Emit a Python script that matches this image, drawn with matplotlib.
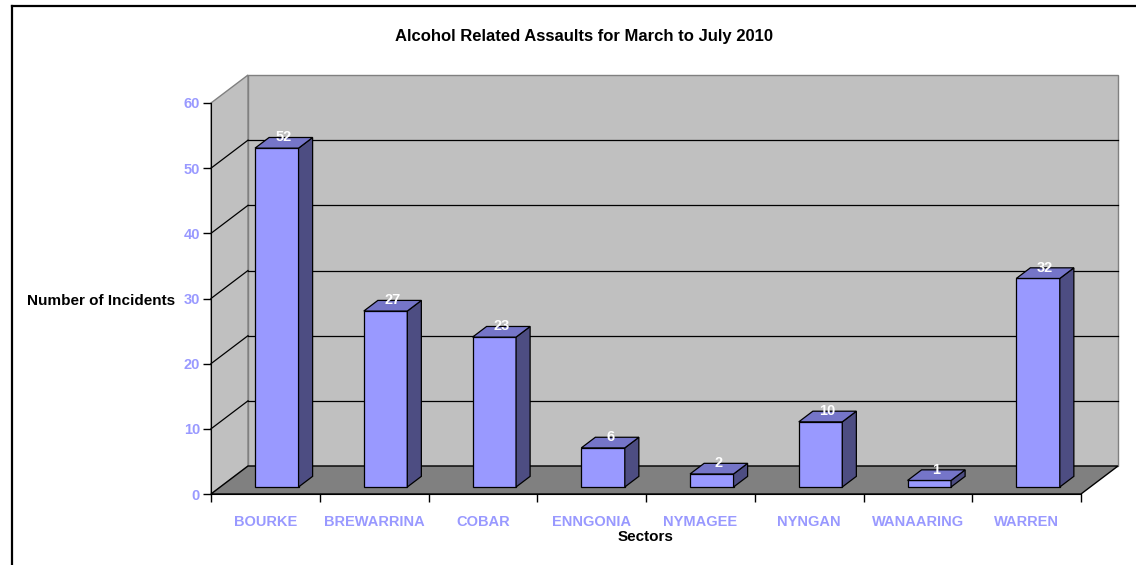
import matplotlib
matplotlib.use("Agg")
import matplotlib.pyplot as plt
from matplotlib.patches import Polygon
from matplotlib.lines import Line2D

categories = ["BOURKE", "BREWARRINA", "COBAR", "ENNGONIA", "NYMAGEE", "NYNGAN", "WANAARING", "WARREN"]
values = [52, 27, 23, 6, 2, 10, 1, 32]
y_ticks = [0, 10, 20, 30, 40, 50, 60]
title = "Alcohol Related Assaults for March to July 2010"
y_label = "Number of Incidents"
x_label = "Sectors"

plt.rcParams['font.family'] = ['Liberation Sans', 'DejaVu Sans']
plt.rcParams['font.weight'] = 'bold'

W, H = 1136, 565
fig = plt.figure(figsize=(W / 100, H / 100), dpi=100)
ax = fig.add_axes([211 / W, (H - 494) / H, 870 / W, 391 / H])
n = len(categories)
ymax = 60
ax.set_xlim(0, n)
ax.set_ylim(0, ymax)
ax.patch.set_alpha(0)

# depth offsets (in data units) of the back plane
DX = 37 / 870 * n
DY = 28 / 391 * ymax
d1, d2 = 0.25, 0.63

wall = "#C0C0C0"
floor = "#808080"
front_c = "#9999FF"
side_c = "#4D4D82"
top_c = "#7575C8"

# walls and floor
ax.add_patch(Polygon([(DX, DY), (n + DX, DY), (n + DX, ymax + DY), (DX, ymax + DY)],
                     closed=True, facecolor=wall, edgecolor="#808080", lw=1, clip_on=False, zorder=0))
ax.add_patch(Polygon([(0, 0), (DX, DY), (DX, ymax + DY), (0, ymax)],
                     closed=True, facecolor=wall, edgecolor="#808080", lw=1, clip_on=False, zorder=0))
ax.add_patch(Polygon([(0, 0), (n, 0), (n + DX, DY), (DX, DY)],
                     closed=True, facecolor=floor, edgecolor="black", lw=1, clip_on=False, zorder=1))

# gridlines
for v in y_ticks[1:-1]:
    ax.add_line(Line2D([DX, n + DX], [v + DY, v + DY], color="black", lw=0.9, clip_on=False, zorder=1))
    ax.add_line(Line2D([0, DX], [v, v + DY], color="black", lw=0.9, clip_on=False, zorder=1))

# bars
bw = 0.40
xs = [i + 0.32 + d1 * DX for i in range(n)]
base = d1 * DY
ax.bar(xs, values, width=bw, bottom=base, align="edge", color=front_c,
       edgecolor="black", linewidth=0.9, zorder=3, clip_on=False)
ddx = (d2 - d1) * DX
ddy = (d2 - d1) * DY
for x, v in zip(xs, values):
    xr = x + bw
    top = base + v
    ax.add_patch(Polygon([(xr, base), (xr + ddx, base + ddy), (xr + ddx, top + ddy), (xr, top)],
                         closed=True, facecolor=side_c, edgecolor="black", lw=0.9, clip_on=False, zorder=3))
    ax.add_patch(Polygon([(x, top), (xr, top), (xr + ddx, top + ddy), (x + ddx, top + ddy)],
                         closed=True, facecolor=top_c, edgecolor="black", lw=0.9, clip_on=False, zorder=3))
    ax.text(x + bw / 2 + ddx / 2, v + d2 * DY, str(v), color="white", fontsize=10.5,
            fontweight="bold", ha="center", va="center", zorder=5)

# axes styling
for s in ["top", "right"]:
    ax.spines[s].set_visible(False)
ax.spines["left"].set_color("black")
ax.spines["bottom"].set_color("black")
ax.spines["left"].set_zorder(2)
ax.set_yticks(y_ticks)
ax.set_yticklabels([str(t) for t in y_ticks])
ax.tick_params(axis="y", direction="out", length=6, width=1, pad=2,
               labelcolor="#9999FF", labelsize=10.5)
ax.set_xticks(range(n + 1))
ax.set_xticklabels([""] * (n + 1))
ax.set_xticks([i + 0.5 for i in range(n)], minor=True)
ax.set_xticklabels(categories, minor=True)
ax.tick_params(axis="x", which="major", direction="out", length=6, width=1)
ax.tick_params(axis="x", which="minor", length=0, pad=15, labelcolor="#9999FF", labelsize=10.5)
for lbl in ax.get_xticklabels(minor=True) + ax.get_yticklabels():
    lbl.set_fontweight("bold")

fig.text(584 / W, 1 - 36 / H, title, ha="center", va="center", fontsize=12, fontweight="bold")
fig.text(101 / W, 1 - 301 / H, y_label, ha="center", va="center", fontsize=11, fontweight="bold")
fig.text(646 / W, 1 - 537 / H, x_label, ha="center", va="center", fontsize=11, fontweight="bold")

# outer frame (top and left edges visible)
fig.add_artist(Line2D([12 / W, 1], [1 - 6 / H, 1 - 6 / H], color="black", lw=1.6, transform=fig.transFigure))
fig.add_artist(Line2D([12 / W, 12 / W], [0, 1 - 6 / H], color="black", lw=1.6, transform=fig.transFigure))

fig.savefig("out.png", dpi=100)
